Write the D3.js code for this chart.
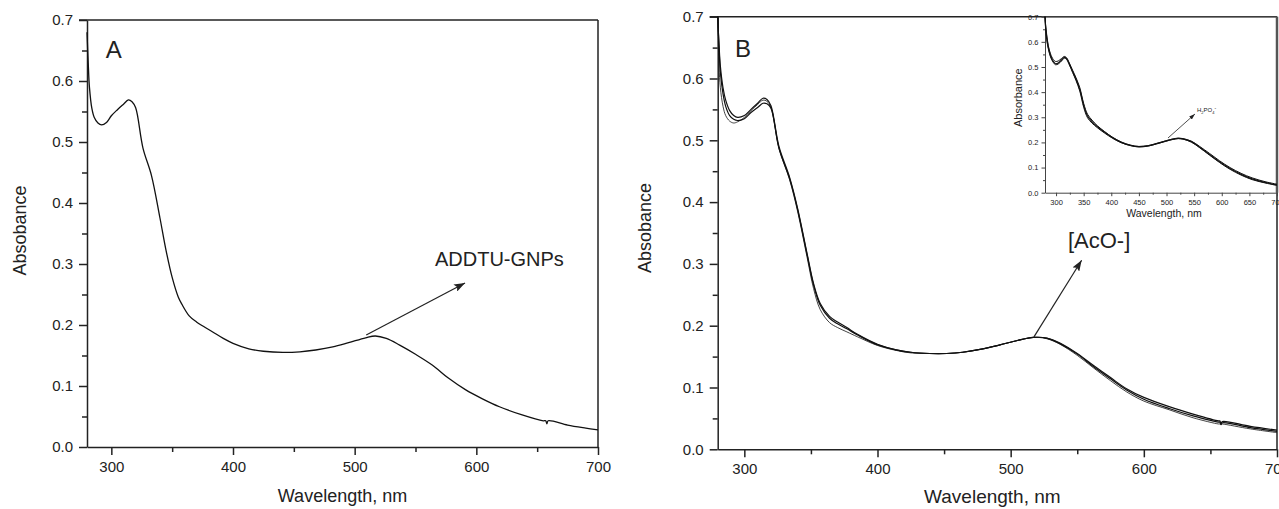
<!DOCTYPE html>
<html>
<head>
<meta charset="utf-8">
<script src="https://cdn.jsdelivr.net/npm/d3@7"></script>
<style>
  body { margin: 0; background: #fff; }
  svg { display: block; }
  text { font-family: "Liberation Sans", Arial, sans-serif; fill: #222; }
</style>
</head>
<body>
<svg width="1279" height="509"></svg>
<script>
// ---- data ----
let wlA = [280, 281, 282, 284, 286, 289, 292, 296, 300, 305, 310, 314, 317, 320, 326, 333, 340, 345, 350, 355, 358, 364, 370, 383, 392, 400, 413, 425, 441, 455, 468, 482, 495, 509, 517, 526, 537, 550, 564, 577, 591, 605, 619, 637, 655, 657, 658, 659, 675, 690, 700]
let absA = [0.68, 0.63, 0.59, 0.555, 0.54, 0.531, 0.528, 0.532, 0.543, 0.553, 0.562, 0.569, 0.566, 0.556, 0.49, 0.445, 0.375, 0.322, 0.278, 0.246, 0.234, 0.215, 0.205, 0.189, 0.178, 0.170, 0.161, 0.157, 0.155, 0.156, 0.159, 0.164, 0.171, 0.179, 0.182, 0.178, 0.167, 0.152, 0.134, 0.113, 0.094, 0.079, 0.066, 0.053, 0.043, 0.043, 0.038, 0.043, 0.036, 0.031, 0.028]

let wlB = [280, 281, 282, 284, 286, 289, 292, 295, 300, 305, 310, 314, 317, 320, 326, 334, 340, 347, 352, 357, 364, 370, 377, 385, 400, 414, 425, 439, 452, 464, 478, 492, 505, 517, 527, 537, 550, 562, 575, 587, 600, 619, 637, 656, 657, 658, 659, 680, 700]
let absB1 = [0.70, 0.655, 0.62, 0.585, 0.565, 0.548, 0.540, 0.537, 0.540, 0.550, 0.560, 0.568, 0.566, 0.556, 0.49, 0.44, 0.39, 0.318, 0.268, 0.236, 0.215, 0.206, 0.197, 0.186, 0.170, 0.161, 0.157, 0.155, 0.155, 0.157, 0.162, 0.169, 0.176, 0.181, 0.180, 0.172, 0.155, 0.136, 0.116, 0.098, 0.084, 0.069, 0.057, 0.046, 0.046, 0.042, 0.045, 0.037, 0.031]
let absB2 = [0.70, 0.65, 0.61, 0.575, 0.555, 0.54, 0.534, 0.532, 0.535, 0.545, 0.553, 0.560, 0.559, 0.552, 0.487, 0.438, 0.388, 0.316, 0.266, 0.233, 0.212, 0.203, 0.195, 0.185, 0.169, 0.161, 0.157, 0.155, 0.155, 0.157, 0.162, 0.169, 0.176, 0.181, 0.180, 0.171, 0.154, 0.134, 0.114, 0.096, 0.081, 0.066, 0.054, 0.044, 0.044, 0.040, 0.043, 0.035, 0.029]
let absB3 = [0.70, 0.62, 0.585, 0.555, 0.54, 0.531, 0.528, 0.530, 0.537, 0.548, 0.558, 0.565, 0.563, 0.553, 0.487, 0.436, 0.385, 0.312, 0.26, 0.226, 0.205, 0.197, 0.190, 0.182, 0.168, 0.160, 0.156, 0.155, 0.155, 0.157, 0.162, 0.169, 0.176, 0.181, 0.179, 0.170, 0.152, 0.132, 0.111, 0.093, 0.078, 0.064, 0.051, 0.041, 0.041, 0.041, 0.041, 0.033, 0.027]

let wlInset = [280, 281, 283, 286, 290, 295, 299, 304, 310, 315, 319, 324, 330, 336, 343, 350, 357, 365, 375, 388, 402, 418, 435, 450, 466, 482, 498, 512, 521, 530, 545, 560, 578, 596, 615, 635, 655, 680, 700]
let absI1 = [0.70, 0.665, 0.62, 0.578, 0.545, 0.522, 0.513, 0.516, 0.528, 0.538, 0.533, 0.512, 0.482, 0.452, 0.410, 0.348, 0.305, 0.283, 0.262, 0.240, 0.219, 0.200, 0.188, 0.183, 0.186, 0.195, 0.205, 0.213, 0.216, 0.214, 0.203, 0.181, 0.152, 0.123, 0.096, 0.073, 0.055, 0.040, 0.031]
let absI2 = [0.70, 0.67, 0.63, 0.585, 0.552, 0.53, 0.522, 0.524, 0.534, 0.542, 0.537, 0.516, 0.487, 0.458, 0.418, 0.355, 0.312, 0.289, 0.266, 0.243, 0.221, 0.202, 0.189, 0.184, 0.187, 0.196, 0.206, 0.214, 0.217, 0.215, 0.205, 0.184, 0.156, 0.127, 0.100, 0.077, 0.059, 0.043, 0.034]
let absI3 = [0.70, 0.655, 0.61, 0.572, 0.54, 0.518, 0.509, 0.512, 0.524, 0.535, 0.530, 0.509, 0.478, 0.447, 0.404, 0.340, 0.298, 0.277, 0.258, 0.237, 0.217, 0.199, 0.187, 0.182, 0.185, 0.194, 0.204, 0.212, 0.215, 0.213, 0.201, 0.179, 0.149, 0.120, 0.093, 0.070, 0.052, 0.038, 0.029]

let yMajor = [0, 0.1, 0.2, 0.3, 0.4, 0.5, 0.6, 0.7]
let yMinor = [0.05, 0.15, 0.25, 0.35, 0.45, 0.55, 0.65]
let xMajor = [300, 400, 500, 600, 700]
let xMinor = [350, 450, 550, 650]
let xMajorInset = [300, 350, 400, 450, 500, 550, 600, 650, 700]
let xMinorInset = [325, 375, 425, 475, 525, 575, 625, 675]

let svg = d3.select('svg')

let defs = svg.append('defs')
defs.append('marker')
    .attr('id', 'arrow')
    .attr('markerUnits', 'userSpaceOnUse')
    .attr('markerWidth', 11).attr('markerHeight', 8)
    .attr('refX', 11).attr('refY', 4)
    .attr('orient', 'auto')
  .append('path')
    .attr('d', 'M0,0 L11,4 L0,8 L2,4 z')
    .attr('fill', '#222')
defs.append('marker')
    .attr('id', 'arrowSmall')
    .attr('markerUnits', 'userSpaceOnUse')
    .attr('markerWidth', 6).attr('markerHeight', 4)
    .attr('refX', 6).attr('refY', 2)
    .attr('orient', 'auto')
  .append('path')
    .attr('d', 'M0,0 L6,2 L0,4 z')
    .attr('fill', '#222')

// draws axes with major/minor ticks plus the top and right frame lines
function drawFrame(x, y, o) {
  let g = svg.append('g')
  let [x0, x1] = x.range()
  let [y0, y1] = y.range()

  let styleAxis = sel => {
    sel.selectAll('path, line').attr('stroke', o.color).attr('stroke-width', o.width)
    sel.selectAll('text').style('font-size', o.font + 'px').attr('fill', '#222')
  }

  g.append('g')
      .attr('transform', `translate(0, ${y0})`)
      .call(d3.axisBottom(x).tickValues(o.xMajor).tickSize(o.tick).tickSizeOuter(0)
              .tickPadding(o.pad).tickFormat(d3.format('d')))
      .call(styleAxis)
  g.append('g')
      .attr('transform', `translate(0, ${y0})`)
      .call(d3.axisBottom(x).tickValues(o.xMinor).tickSize(o.minor).tickFormat(''))
      .call(sel => sel.select('.domain').remove())
      .call(styleAxis)

  g.append('g')
      .attr('transform', `translate(${x0}, 0)`)
      .call(d3.axisLeft(y).tickValues(yMajor).tickSize(o.tick).tickSizeOuter(0)
              .tickPadding(o.pad).tickFormat(d3.format('.1f')))
      .call(styleAxis)
  g.append('g')
      .attr('transform', `translate(${x0}, 0)`)
      .call(d3.axisLeft(y).tickValues(yMinor).tickSize(o.minor).tickFormat(''))
      .call(sel => sel.select('.domain').remove())
      .call(styleAxis)

  g.append('line')
      .attr('x1', x0 - o.tick).attr('x2', x1)
      .attr('y1', y1).attr('y2', y1)
      .attr('stroke', o.color).attr('stroke-width', o.width)
  g.append('line')
      .attr('x1', x1).attr('x2', x1)
      .attr('y1', y1).attr('y2', y0)
      .attr('stroke', o.rightColor || o.color).attr('stroke-width', o.rightWidth || o.width)
  return g
}

function drawCurve(x, y, wl, abs, w) {
  svg.append('path')
      .datum(d3.zip(wl, abs))
      .attr('fill', 'none')
      .attr('stroke', '#111')
      .attr('stroke-width', w)
      .attr('stroke-linejoin', 'round')
      .attr('d', d3.line().x(d => x(d[0])).y(d => y(d[1])).curve(d3.curveCatmullRom.alpha(0.5)))
}

// ---- panel A ----
let xA = d3.scaleLinear().domain([280, 700]).range([87, 598])
let yA = d3.scaleLinear().domain([0, 0.7]).range([447, 20])

drawFrame(xA, yA, {xMajor: xMajor, xMinor: xMinor, tick: 8, minor: 5, pad: 6, font: 15, color: '#222', width: 1.5})
drawCurve(xA, yA, wlA, absA, 1.3)

svg.append('text')
    .attr('x', xA(295.5)).attr('y', yA(0.638))
    .style('font-size', '24px')
    .text('A')

svg.append('line')
    .attr('x1', xA(509.5)).attr('y1', yA(0.1836))
    .attr('x2', xA(590.7)).attr('y2', yA(0.269))
    .attr('stroke', '#222').attr('stroke-width', 1.2)
    .attr('marker-end', 'url(#arrow)')
svg.append('text')
    .attr('x', xA(566)).attr('y', yA(0.297))
    .style('font-size', '20px')
    .text('ADDTU-GNPs')

svg.append('text')
    .attr('x', (xA(280) + xA(700)) / 2)
    .attr('y', 502)
    .style('text-anchor', 'middle')
    .style('font-size', '18px')
    .text('Wavelength, nm')
svg.append('text')
    .attr('transform', `translate(${xA(280) - 67}, ${(yA(0) + yA(0.7)) / 2 - 3}) rotate(-90)`)
    .attr('dy', '0.35em')
    .style('text-anchor', 'middle')
    .style('font-size', '18px')
    .text('Absobance')

// ---- panel B ----
let xB = d3.scaleLinear().domain([280, 700]).range([717.7, 1277])
let yB = d3.scaleLinear().domain([0, 0.7]).range([449.3, 16.7])

drawFrame(xB, yB, {xMajor: xMajor, xMinor: xMinor, tick: 8, minor: 5, pad: 6, font: 15, color: '#222', width: 1.5})
drawCurve(xB, yB, wlB, absB3, 0.8)
drawCurve(xB, yB, wlB, absB2, 1.2)
drawCurve(xB, yB, wlB, absB1, 1.2)

svg.append('text')
    .attr('x', xB(293)).attr('y', yB(0.635))
    .style('font-size', '24px')
    .text('B')

svg.append('line')
    .attr('x1', xB(517.5)).attr('y1', yB(0.182))
    .attr('x2', xB(553.3)).attr('y2', yB(0.306))
    .attr('stroke', '#222').attr('stroke-width', 1.2)
    .attr('marker-end', 'url(#arrow)')
svg.append('text')
    .attr('x', xB(543)).attr('y', yB(0.326))
    .style('font-size', '22px')
    .text('[AcO-]')

svg.append('text')
    .attr('x', (xB(280) + xB(700)) / 2 - 5)
    .attr('y', 503)
    .style('text-anchor', 'middle')
    .style('font-size', '19px')
    .text('Wavelength, nm')
svg.append('text')
    .attr('transform', `translate(${xB(280) - 72.7}, ${(yB(0) + yB(0.7)) / 2 - 5}) rotate(-90)`)
    .attr('dy', '0.35em')
    .style('text-anchor', 'middle')
    .style('font-size', '18px')
    .text('Absobance')

// ---- inset (H2PO4-) ----
let xI = d3.scaleLinear().domain([280, 700]).range([1045, 1277])
let yI = d3.scaleLinear().domain([0, 0.7]).range([192.7, 16.7])

drawFrame(xI, yI, {xMajor: xMajorInset, xMinor: xMinorInset, tick: 3.5, minor: 2, pad: 3, font: 7.5,
                   color: '#444', width: 1, rightColor: '#555', rightWidth: 2.5})
drawCurve(xI, yI, wlInset, absI2, 1)
drawCurve(xI, yI, wlInset, absI3, 1)
drawCurve(xI, yI, wlInset, absI1, 1.2)

svg.append('line')
    .attr('x1', xI(502.7)).attr('y1', yI(0.2176))
    .attr('x2', xI(551.5)).attr('y2', yI(0.313))
    .attr('stroke', '#222').attr('stroke-width', 0.8)
    .attr('marker-end', 'url(#arrowSmall)')
let h2po4 = svg.append('text')
    .attr('x', xI(555)).attr('y', yI(0.32))
    .style('font-size', '6px')
h2po4.append('tspan').text('H')
h2po4.append('tspan').attr('dy', 1.5).style('font-size', '4px').text('2')
h2po4.append('tspan').attr('dy', -1.5).text('PO')
h2po4.append('tspan').attr('dy', 1.5).style('font-size', '4px').text('4')
h2po4.append('tspan').attr('dy', -4).style('font-size', '5px').text('-')

svg.append('text')
    .attr('x', (xI(280) + xI(700)) / 2 + 3)
    .attr('y', 217)
    .style('text-anchor', 'middle')
    .style('font-size', '10.5px')
    .text('Wavelength, nm')
svg.append('text')
    .attr('transform', `translate(${xI(280) - 27}, ${(yI(0) + yI(0.7)) / 2 - 7}) rotate(-90)`)
    .attr('dy', '0.35em')
    .style('text-anchor', 'middle')
    .style('font-size', '11px')
    .text('Absorbance')
</script>
</body>
</html>
